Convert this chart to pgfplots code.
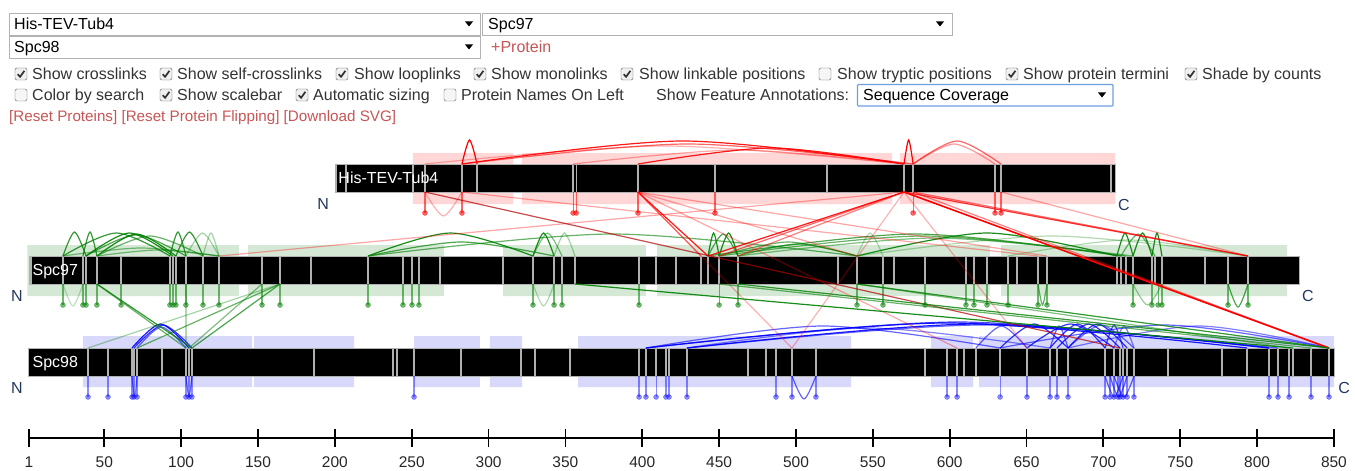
\documentclass[border=0pt]{standalone}
\usepackage{pgfplots}
\pgfplotsset{compat=1.18}
\usepackage{pgfplotstable}
\usepackage{fontspec}
\setmainfont{Liberation Sans}

\definecolor{xred}{RGB}{255,0,0}
\definecolor{xgreen}{RGB}{0,128,0}
\definecolor{xblue}{RGB}{0,0,255}
\definecolor{shR}{RGB}{255,215,215}
\definecolor{shG}{RGB}{212,232,213}
\definecolor{shB}{RGB}{216,216,250}
\definecolor{ui}{RGB}{51,51,51}
\definecolor{lnk}{RGB}{200,85,85}
\definecolor{nc}{RGB}{35,55,95}
\definecolor{sel}{RGB}{110,160,225}

\newcommand\uifont{\fontsize{16}{19}\selectfont}

\pgfplotsset{
  rA/.style={draw=xred, line width=1.2pt, draw opacity=#1, smooth},
  gA/.style={draw=xgreen, line width=1.2pt, draw opacity=#1, smooth},
  bA/.style={draw=xblue, line width=1.2pt, draw opacity=#1, smooth},
  rL/.style={draw=xred, line width=1.2pt, draw opacity=#1},
  gL/.style={draw=xgreen, line width=1.2pt, draw opacity=#1},
}

% positions on the display scale (scale bar units); second column unused
\pgfplotstableread{
x d
200.7 0
207.2 0
250.8 0
258.6 0
282.7 0
292.5 0
355.0 0
357.0 0
397.2 0
447.3 0
520.2 0
570.3 0
576.2 0
629.5 0
633.4 0
705.0 0
}\tubGray
\pgfplotstableread{
x d
258.6 0
282.7 0
355.0 0
357.0 0
397.2 0
447.3 0
576.2 0
629.5 0
633.4 0
}\tubMono
\pgfplotstableread{
x d
2.3 0
23.1 0
36.1 0
38.1 0
45.2 0
60.9 0
92.7 0
94.7 0
96.6 0
103.1 0
114.2 0
124.6 0
152.6 0
164.3 0
184.5 0
221.6 0
244.3 0
250.2 0
254.7 0
268.4 0
309.4 0
328.9 0
342.6 0
347.8 0
356.2 0
397.9 0
409.0 0
422.0 0
438.2 0
442.8 0
450.0 0
462.3 0
527.4 0
539.7 0
556.6 0
563.8 0
584.0 0
610.6 0
615.8 0
624.3 0
638.0 0
643.8 0
657.5 0
663.3 0
708.8 0
711.5 0
714.7 0
719.3 0
731.6 0
733.6 0
738.1 0
766.1 0
781.1 0
794.1 0
}\sGray
\pgfplotstableread{
x d
23.1 0
36.1 0
38.1 0
45.2 0
60.9 0
92.7 0
94.7 0
96.6 0
103.1 0
114.2 0
124.6 0
152.6 0
164.3 0
221.6 0
244.3 0
250.2 0
254.7 0
328.9 0
342.6 0
347.8 0
397.9 0
450.0 0
462.3 0
539.7 0
556.6 0
584.0 0
610.6 0
615.8 0
624.3 0
638.0 0
657.5 0
663.3 0
719.3 0
731.6 0
735.6 0
738.1 0
781.1 0
794.1 0
}\sMono
\pgfplotstableread{
x d
39.4 0
52.4 0
68.0 0
69.3 0
71.3 0
87.5 0
103.1 0
105.1 0
107.0 0
186.4 0
237.8 0
240.4 0
251.5 0
282.1 0
321.1 0
330.2 0
353.0 0
397.9 0
402.4 0
409.0 0
415.4 0
417.4 0
429.1 0
468.8 0
480.5 0
487.0 0
497.4 0
513.0 0
584.0 0
598.3 0
604.8 0
609.3 0
617.1 0
632.8 0
650.3 0
665.3 0
669.8 0
677.0 0
701.1 0
706.9 0
710.8 0
712.8 0
715.4 0
719.9 0
742.1 0
777.2 0
793.5 0
807.8 0
813.6 0
820.8 0
823.4 0
835.1 0
846.8 0
}\bGray
\pgfplotstableread{
x d
39.4 0
52.4 0
68.0 0
69.3 0
71.3 0
103.1 0
105.1 0
107.0 0
251.5 0
397.9 0
402.4 0
409.0 0
415.4 0
417.4 0
429.1 0
487.0 0
497.4 0
513.0 0
598.3 0
604.8 0
632.8 0
650.3 0
665.3 0
669.8 0
677.0 0
701.1 0
704.3 0
706.9 0
709.5 0
710.8 0
712.8 0
715.4 0
719.9 0
807.8 0
813.6 0
820.8 0
835.1 0
846.8 0
}\bMono

\newcommand{\cbon}[2]{%
  \draw[rounded corners=1.5pt, draw=gray!75!black, fill=gray!12] (#1-6,#2-6) rectangle (#1+6,#2+6);
  \draw[line width=1.7pt, black!80] (#1-3.3,#2+0.2) -- (#1-0.9,#2+2.8) -- (#1+3.4,#2-3.2);}
\newcommand{\cboff}[2]{%
  \draw[rounded corners=1.5pt, draw=gray!75!black, fill=gray!7] (#1-6,#2-6) rectangle (#1+6,#2+6);}
\newcommand{\uitext}[3]{\node[anchor=base west, inner sep=0, text=ui, font=\uifont] at (#1,#2+5.7) {#3};}
\newcommand{\ddarrow}[2]{\fill[black] (#1-4,#2-2.5) -- (#1+4,#2-2.5) -- (#1,#2+2.5) -- cycle;}

\begin{document}
\begin{tikzpicture}
% ---------------- network view ----------------
\begin{axis}[at={(0pt,0pt)}, anchor=south west, scale only axis,
  width=1355pt, height=471pt, xmin=-17.868, xmax=863.7, ymin=0, ymax=471,
  y dir=reverse, hide axis, clip=false]
% coverage shading
\addplot[fill=shR, draw=none] coordinates {(250.8,153) (315.9,153) (315.9,204) (250.8,204) (250.8,153)};
\addplot[fill=shR, draw=none] coordinates {(321.8,153) (562.5,153) (562.5,204) (321.8,204) (321.8,153)};
\addplot[fill=shR, draw=none] coordinates {(567.7,153) (707.6,153) (707.6,204) (567.7,204) (567.7,153)};
\addplot[fill=shG, draw=none] coordinates {(0,245) (137.6,245) (137.6,296) (0,296) (0,245)};
\addplot[fill=shG, draw=none] coordinates {(143.5,245) (271.0,245) (271.0,296) (143.5,296) (143.5,245)};
\addplot[fill=shG, draw=none] coordinates {(309.4,245) (402.4,245) (402.4,296) (309.4,296) (309.4,245)};
\addplot[fill=shG, draw=none] coordinates {(409.6,245) (626.2,245) (626.2,296) (409.6,296) (409.6,245)};
\addplot[fill=shG, draw=none] coordinates {(633.4,245) (819.5,245) (819.5,296) (633.4,296) (633.4,245)};
\addplot[fill=shB, draw=none] coordinates {(36.1,336) (146.1,336) (146.1,387) (36.1,387) (36.1,336)};
\addplot[fill=shB, draw=none] coordinates {(147.4,336) (212.5,336) (212.5,387) (147.4,387) (147.4,336)};
\addplot[fill=shB, draw=none] coordinates {(251.5,336) (294.4,336) (294.4,387) (251.5,387) (251.5,336)};
\addplot[fill=shB, draw=none] coordinates {(300.9,336) (321.8,336) (321.8,387) (300.9,387) (300.9,336)};
\addplot[fill=shB, draw=none] coordinates {(358.2,336) (535.8,336) (535.8,387) (358.2,387) (358.2,336)};
\addplot[fill=shB, draw=none] coordinates {(587.9,336) (615.2,336) (615.2,387) (587.9,387) (587.9,336)};
\addplot[fill=shB, draw=none] coordinates {(619.1,336) (850.1,336) (850.1,387) (619.1,387) (619.1,336)};
% protein bars
\addplot[fill=black, draw=gray!60, line width=0.8pt] coordinates {(200.1,164) (707.6,164) (707.6,192) (200.1,192) (200.1,164)};
\addplot[fill=black, draw=gray!60, line width=0.8pt] coordinates {(1.0,256) (827.3,256) (827.3,284) (1.0,284) (1.0,256)};
\addplot[fill=black, draw=gray!60, line width=0.8pt] coordinates {(0.5,348) (850.1,348) (850.1,376) (0.5,376) (0.5,348)};
% linkable positions
\addplot[draw=gray!62, line width=1.3pt, quiver={u=0,v=28}] table[x=x, y=d, y expr=164] {\tubGray};
\addplot[draw=gray!62, line width=1.3pt, quiver={u=0,v=28}] table[x=x, y=d, y expr=256] {\sGray};
\addplot[draw=gray!62, line width=1.3pt, quiver={u=0,v=28}] table[x=x, y=d, y expr=348] {\bGray};
% names and termini
\node[anchor=base west, inner sep=0, text=white, font=\uifont] at (axis cs:202.2,183.7) {His-TEV-Tub4};
\node[anchor=base west, inner sep=0, text=white, font=\uifont] at (axis cs:3.2,275.7) {Spc97};
\node[anchor=base west, inner sep=0, text=white, font=\uifont] at (axis cs:3.2,367.7) {Spc98};
\node[text=nc, font=\uifont, inner sep=0] at (axis cs:192.3,204) {N};
\node[text=nc, font=\uifont, inner sep=0] at (axis cs:713.4,205) {C};
\node[text=nc, font=\uifont, inner sep=0] at (axis cs:-6.8,296) {N};
\node[text=nc, font=\uifont, inner sep=0] at (axis cs:833.1,296) {C};
\node[text=nc, font=\uifont, inner sep=0] at (axis cs:-6.8,388) {N};
\node[text=nc, font=\uifont, inner sep=0] at (axis cs:856.6,388) {C};
% monolinks
\addplot[draw=xred, draw opacity=0.6, line width=1.2pt, quiver={u=0,v=21}] table[x=x, y=d, y expr=192] {\tubMono};
\addplot[only marks, mark=*, mark size=2.5pt, color=xred, opacity=0.6] table[x=x, y=d, y expr=213] {\tubMono};
\addplot[draw=xgreen, draw opacity=0.55, line width=1.2pt, quiver={u=0,v=21}] table[x=x, y=d, y expr=284] {\sMono};
\addplot[only marks, mark=*, mark size=2.5pt, color=xgreen, opacity=0.55] table[x=x, y=d, y expr=305] {\sMono};
\addplot[draw=xblue, draw opacity=0.45, line width=1.2pt, quiver={u=0,v=21}] table[x=x, y=d, y expr=376] {\bMono};
\addplot[only marks, mark=*, mark size=2.5pt, color=xblue, opacity=0.45] table[x=x, y=d, y expr=397] {\bMono};
% looplinks (below)
\addplot[rA=0.3] coordinates {(258.6,192) (270.7,216) (282.7,192)};
\addplot[gA=0.25] coordinates {(23.1,284) (29.6,306) (36.1,284)};
\addplot[gA=0.3] coordinates {(328.9,284) (335.8,306) (342.6,284)};
\addplot[gA=0.6] coordinates {(657.5,284) (660.4,305) (663.3,284)};
\addplot[gA=0.4] coordinates {(719.3,284) (728.7,305) (738.1,284)};
\addplot[gA=0.7] coordinates {(781.1,284) (787.6,307) (794.1,284)};
\addplot[bA=0.5] coordinates {(68.0,376) (69.7,397) (71.3,376)};
\addplot[bA=0.6] coordinates {(103.1,376) (105.1,397) (107.0,376)};
\addplot[bA=0.6] coordinates {(497.4,376) (505.2,399) (513.0,376)};
\addplot[bA=0.6] coordinates {(701.1,376) (707.0,397) (712.8,376)};
\addplot[bA=0.6] coordinates {(704.3,376) (709.9,397) (715.4,376)};
\addplot[bA=0.6] coordinates {(706.9,376) (713.4,397) (719.9,376)};
% self links His-TEV-Tub4
\addplot[rA=1] coordinates {(282.7,164) (287.6,140) (292.5,164)};
\addplot[rA=0.9] coordinates {(282.7,164) (426.5,141) (570.3,164)};
\addplot[rA=0.6] coordinates {(282.7,164) (429.5,144) (576.2,164)};
\addplot[rA=0.9] coordinates {(397.2,164) (483.8,148) (570.3,164)};
\addplot[rA=0.35] coordinates {(355.0,164) (462.7,150) (570.3,164)};
\addplot[rA=0.3] coordinates {(258.6,164) (414.5,146) (570.3,164)};
\addplot[rA=1] coordinates {(570.3,164) (573.3,140) (576.2,164)};
\addplot[rA=0.6] coordinates {(576.2,164) (604.8,141) (633.4,164)};
\addplot[rA=0.4] coordinates {(576.2,164) (602.9,144) (629.5,164)};
% self links Spc97
\addplot[gA=0.8] coordinates {(23.1,256) (30.6,232) (38.1,256)};
\addplot[gA=0.8] coordinates {(36.1,256) (40.7,232) (45.2,256)};
\addplot[gA=0.8] coordinates {(23.1,256) (57.9,233) (92.7,256)};
\addplot[gA=0.9] coordinates {(38.1,256) (66.4,233) (94.7,256)};
\addplot[gA=0.9] coordinates {(45.2,256) (70.9,234) (96.6,256)};
\addplot[gA=0.7] coordinates {(38.1,256) (70.6,235) (103.1,256)};
\addplot[gA=0.6] coordinates {(45.2,256) (79.7,236) (114.2,256)};
\addplot[gA=0.8] coordinates {(92.7,256) (97.9,232) (103.1,256)};
\addplot[gA=0.8] coordinates {(96.6,256) (105.4,232) (114.2,256)};
\addplot[gA=0.35] coordinates {(103.1,256) (113.9,233) (124.6,256)};
\addplot[gA=0.35] coordinates {(114.2,256) (119.4,233) (124.6,256)};
\addplot[gA=0.5] coordinates {(23.1,256) (73.9,248) (124.6,256)};
\addplot[gA=0.5] coordinates {(45.2,256) (84.9,250) (124.6,256)};
\addplot[gA=0.9] coordinates {(221.6,256) (275.3,233) (328.9,256)};
\addplot[gA=0.7] coordinates {(221.6,256) (282.1,242) (342.6,256)};
\addplot[gA=0.9] coordinates {(328.9,256) (335.8,233) (342.6,256)};
\addplot[gA=0.5] coordinates {(328.9,256) (338.4,233) (347.8,256)};
\addplot[gA=0.35] coordinates {(342.6,256) (349.4,233) (356.2,256)};
\addplot[gA=0.6] coordinates {(221.6,256) (380.7,234) (539.7,256)};
\addplot[gA=0.9] coordinates {(442.8,256) (446.4,233) (450.0,256)};
\addplot[gA=0.9] coordinates {(450.0,256) (456.2,233) (462.3,256)};
\addplot[gA=0.7] coordinates {(442.8,256) (452.6,234) (462.3,256)};
\addplot[gA=0.6] coordinates {(450.0,256) (494.9,242) (539.7,256)};
\addplot[gA=0.6] coordinates {(462.3,256) (501.0,244) (539.7,256)};
\addplot[gA=0.3] coordinates {(539.7,256) (548.2,233) (556.6,256)};
\addplot[gA=0.9] coordinates {(539.7,256) (624.3,233) (708.8,256)};
\addplot[gA=0.7] coordinates {(442.8,256) (577.2,234) (711.5,256)};
\addplot[gA=0.6] coordinates {(450.0,256) (582.4,236) (714.7,256)};
\addplot[gA=0.5] coordinates {(462.3,256) (590.8,238) (719.3,256)};
\addplot[gA=0.3] coordinates {(638.0,256) (716.1,240) (794.1,256)};
\addplot[gA=0.3] coordinates {(539.7,256) (666.9,236) (794.1,256)};
\addplot[gA=0.9] coordinates {(708.8,256) (714.1,233) (719.3,256)};
\addplot[gA=0.9] coordinates {(719.3,256) (725.5,233) (731.6,256)};
\addplot[gA=0.9] coordinates {(731.6,256) (734.9,233) (738.1,256)};
\addplot[gA=0.6] coordinates {(711.5,256) (722.6,234) (733.6,256)};
% self links Spc98
\addplot[bA=0.9] coordinates {(68.0,348) (86.6,324) (105.1,348)};
\addplot[bA=0.8] coordinates {(69.3,348) (88.2,325) (107.0,348)};
\addplot[bA=0.6] coordinates {(71.3,348) (87.2,327) (103.1,348)};
\addplot[bA=0.9] coordinates {(402.4,348) (598.0,323) (793.5,348)};
\addplot[bA=0.7] coordinates {(402.4,348) (605.1,322) (807.8,348)};
\addplot[bA=0.9] coordinates {(429.1,348) (618.5,324) (807.8,348)};
\addplot[bA=0.6] coordinates {(429.1,348) (621.4,325) (813.6,348)};
\addplot[bA=0.6] coordinates {(402.4,348) (517.6,326) (632.8,348)};
\addplot[bA=0.5] coordinates {(429.1,348) (547.2,328) (665.3,348)};
\addplot[bA=0.8] coordinates {(632.8,348) (654.9,324) (677.0,348)};
\addplot[bA=0.8] coordinates {(650.3,348) (678.6,324) (706.9,348)};
\addplot[bA=0.8] coordinates {(665.3,348) (683.2,324) (701.1,348)};
\addplot[bA=0.8] coordinates {(669.8,348) (690.3,324) (710.8,348)};
\addplot[bA=0.8] coordinates {(677.0,348) (696.2,324) (715.4,348)};
\addplot[bA=0.6] coordinates {(677.0,348) (698.5,325) (719.9,348)};
\addplot[bA=0.7] coordinates {(701.1,348) (707.0,325) (712.8,348)};
\addplot[bA=0.6] coordinates {(617.1,348) (633.7,326) (650.3,348)};
\addplot[bA=0.6] coordinates {(665.3,348) (671.2,326) (677.0,348)};
\addplot[bA=0.5] coordinates {(706.9,348) (713.4,326) (719.9,348)};
\addplot[bA=0.6] coordinates {(632.8,348) (739.8,325) (846.8,348)};
\addplot[bA=0.5] coordinates {(677.0,348) (761.9,326) (846.8,348)};
% His-TEV-Tub4 -- Spc97
\addplot[rL=0.9] coordinates {(397.2,192) (442.8,256)};
\addplot[rL=0.5] coordinates {(397.2,192) (438.2,256)};
\addplot[rL=0.9] coordinates {(570.3,192) (442.8,256)};
\addplot[rL=0.6] coordinates {(570.3,192) (450.0,256)};
\addplot[rL=0.5] coordinates {(570.3,192) (462.3,256)};
\addplot[rL=0.35] coordinates {(570.3,192) (124.6,256)};
\addplot[rL=0.8] coordinates {(570.3,192) (794.1,256)};
\addplot[rL=0.6] coordinates {(576.2,192) (794.1,256)};
\addplot[rL=0.35] coordinates {(633.4,192) (794.1,256)};
\addplot[rL=0.35] coordinates {(397.2,192) (539.7,256)};
\addplot[rL=0.35] coordinates {(282.7,192) (657.5,256)};
\addplot[rL=0.35] coordinates {(397.2,192) (663.3,256)};
% His-TEV-Tub4 -- Spc98
\addplot[draw=xred, line width=1.6pt] coordinates {(570.3,192) (846.8,348)};
\addplot[rL=0.5] coordinates {(576.2,192) (846.8,348)};
\addplot[rL=0.3] coordinates {(397.2,192) (497.4,348)};
\addplot[rL=0.3] coordinates {(570.3,192) (497.4,348)};
\addplot[rL=0.35] coordinates {(397.2,192) (604.8,348)};
\addplot[rL=0.3] coordinates {(570.3,192) (650.3,348)};
\addplot[draw=red!70!black, line width=1.2pt, draw opacity=0.7] coordinates {(258.6,192) (710.8,348)};
% Spc97 -- Spc98
\addplot[gL=0.8] coordinates {(45.2,284) (107.0,348)};
\addplot[gL=0.6] coordinates {(45.2,284) (103.1,348)};
\addplot[gL=0.7] coordinates {(164.3,284) (107.0,348)};
\addplot[gL=0.6] coordinates {(164.3,284) (71.3,348)};
\addplot[gL=0.35] coordinates {(164.3,284) (39.4,348)};
\addplot[gL=0.5] coordinates {(152.6,284) (105.1,348)};
\addplot[gL=0.3] coordinates {(103.1,284) (103.1,348)};
\addplot[gL=0.9] coordinates {(356.2,284) (823.4,348)};
\addplot[gL=0.8] coordinates {(462.3,284) (846.8,348)};
\addplot[gL=0.8] coordinates {(539.7,284) (846.8,348)};
\addplot[gL=0.6] coordinates {(450.0,284) (835.1,348)};
\addplot[gL=0.5] coordinates {(539.7,284) (820.8,348)};
\end{axis}

% ---------------- scale bar ----------------
\begin{axis}[at={(0pt,33pt)}, anchor=south west, scale only axis,
  width=1355pt, height=20pt, xmin=-17.868, xmax=863.7, ymin=0, ymax=1,
  axis x line=bottom, axis y line=none, x axis line style={draw=none},
  xtick={1,50,100,150,200,250,300,350,400,450,500,550,600,650,700,750,800,850},
  tick align=center, major tick length=18pt,
  xtick style={black, line width=1.8pt},
  xticklabel style={font=\fontsize{15.5}{18}\selectfont, text=black!85, yshift=-6pt},
  /pgf/number format/assume math mode=true, clip=false]
\addplot[black, line width=2.2pt] coordinates {(1,0) (850,0)};
\end{axis}

% ---------------- controls ----------------
\begin{scope}[shift={(0,471pt)}, x=1pt, y=-1pt]
\draw[draw=gray!60, fill=white] (9.5,13.5) rectangle (480,35);
\node[anchor=base west, inner sep=0, font=\uifont] at (14,29.7) {His-TEV-Tub4};
\ddarrow{469}{24}
\draw[draw=gray!60, fill=white] (482.5,13.5) rectangle (952,35);
\node[anchor=base west, inner sep=0, font=\uifont] at (488,29.7) {Spc97};
\ddarrow{940}{24}
\draw[draw=gray!60, fill=white] (9.5,36.5) rectangle (480,58);
\node[anchor=base west, inner sep=0, font=\uifont] at (14,52.7) {Spc98};
\ddarrow{469}{47}
\node[anchor=base west, inner sep=0, text=lnk, font=\uifont] at (491,52.7) {+Protein};
% row 1
\cbon{21}{74}\uitext{32}{74}{Show crosslinks}
\cbon{166}{74}\uitext{177}{74}{Show self-crosslinks}
\cbon{342}{74}\uitext{354}{74}{Show looplinks}
\cbon{480}{74}\uitext{491}{74}{Show monolinks}
\cbon{627}{74}\uitext{639}{74}{Show linkable positions}
\cboff{825}{74}\uitext{837}{74}{Show tryptic positions}
\cbon{1012}{74}\uitext{1023}{74}{Show protein termini}
\cbon{1191}{74}\uitext{1202}{74}{Shade by counts}
% row 2
\cboff{21}{95}\uitext{32}{95}{Color by search}
\cbon{166}{95}\uitext{177}{95}{Show scalebar}
\cbon{302}{95}\uitext{313}{95}{Automatic sizing}
\cboff{450}{95}\uitext{461}{95}{Protein Names On Left}
\uitext{656}{95}{Show Feature Annotations:}
\draw[draw=sel, line width=1.3pt, fill=white, rounded corners=1pt] (857.5,84.5) rectangle (1113,106);
\node[anchor=base west, inner sep=0, font=\uifont] at (863,100.7) {Sequence Coverage};
\ddarrow{1102}{95}
% row 3
\node[anchor=base west, inner sep=0, text=lnk, font=\fontsize{15.2}{18}\selectfont] at (9,121.5) {[Reset Proteins] [Reset Protein Flipping] [Download SVG]};
\end{scope}

\pgfresetboundingbox
\path[use as bounding box] (0,0) rectangle (1355pt,471pt);
\end{tikzpicture}
\end{document}
